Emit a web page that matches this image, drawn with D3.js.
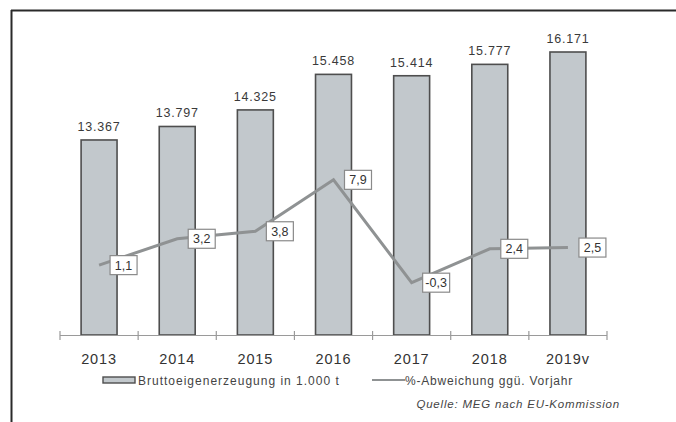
<!DOCTYPE html>
<html>
<head>
<meta charset="utf-8">
<script src="https://cdn.jsdelivr.net/npm/d3@7"></script>
<style>
  html, body { margin: 0; padding: 0; background: #fff; }
  svg { display: block; font-family: "Liberation Sans", Arial, sans-serif; }
</style>
</head>
<body>
<svg id="chart" width="676" height="422"></svg>
<script>
// Bruttoeigenerzeugung (1.000 t) and percentage change versus previous year
const years = ["2013", "2014", "2015", "2016", "2017", "2018", "2019v"];
const production = [13367, 13797, 14325, 15458, 15414, 15777, 16171];
const changePct = [1.1, 3.2, 3.8, 7.9, -0.3, 2.4, 2.5];
const legendLabels = ["Bruttoeigenerzeugung in 1.000 t", "%-Abweichung ggü. Vorjahr"];
const sourceNote = "Quelle: MEG nach EU-Kommission";

const de = d3.formatLocale({ decimal: ",", thousands: ".", grouping: [3], currency: ["", " €"], minus: "-" });
const fmtThousands = de.format(",d");
const fmtPct = de.format(".1f");

const svg = d3.select("#chart");

// frame: top and left rule
svg.append("line").attr("x1", 11).attr("x2", 676).attr("y1", 10.5).attr("y2", 10.5)
  .attr("stroke", "#2a2a2a").attr("stroke-width", 2);
svg.append("line").attr("x1", 11.5).attr("x2", 11.5).attr("y1", 10).attr("y2", 422)
  .attr("stroke", "#2a2a2a").attr("stroke-width", 2);

const x = d3.scaleBand().domain(years).range([60, 607]).paddingInner(0.54).paddingOuter(0.27);
const y = d3.scaleLinear().domain([7150, 17000]).range([335, 26]);
const yPct = d3.scaleLinear().domain([-2, 10]).range([304, 153.5]);

const baseY = y(7150);

// bars
svg.append("g").selectAll("rect").data(years).join("rect")
  .attr("x", d => x(d))
  .attr("y", (d, i) => y(production[i]))
  .attr("width", x.bandwidth())
  .attr("height", (d, i) => baseY - y(production[i]))
  .attr("fill", "#c2c8cc")
  .attr("stroke", "#4e4e4e")
  .attr("stroke-width", 1.6);

// bar value labels
svg.append("g").selectAll("text").data(years).join("text")
  .attr("x", d => x(d) + x.bandwidth() / 2)
  .attr("y", (d, i) => y(production[i]) - 9)
  .attr("text-anchor", "middle")
  .attr("font-size", 12.5)
  .attr("letter-spacing", 0.8)
  .attr("fill", "#3a3a3a")
  .text((d, i) => fmtThousands(production[i]));

// category axis
const tickEdges = years.map(d => x(d) - x.step() * x.paddingInner() / 2).slice(1);
const axisG = svg.append("g");
axisG.append("line").attr("x1", 60).attr("x2", 607).attr("y1", baseY + 0.5).attr("y2", baseY + 0.5)
  .attr("stroke", "#9a9a9a").attr("stroke-width", 1.2);
axisG.selectAll("line.tick").data([60].concat(tickEdges, [607])).join("line")
  .attr("class", "tick")
  .attr("x1", d => d).attr("x2", d => d)
  .attr("y1", baseY - 4).attr("y2", baseY + 5)
  .attr("stroke", "#9a9a9a").attr("stroke-width", 1.2);
axisG.selectAll("text").data(years).join("text")
  .attr("x", d => x(d) + x.bandwidth() / 2)
  .attr("y", baseY + 29)
  .attr("text-anchor", "middle")
  .attr("font-size", 14.5)
  .attr("letter-spacing", 0.9)
  .attr("fill", "#333")
  .text(d => d);

// percentage line
const cx = d => x(d) + x.bandwidth() / 2;
const pctLine = d3.line().x(d => cx(d)).y((d, i) => yPct(changePct[i]));
svg.append("path").datum(years)
  .attr("d", pctLine)
  .attr("fill", "none")
  .attr("stroke", "#8f9293")
  .attr("stroke-width", 3)
  .attr("stroke-linejoin", "miter");

// percentage labels in boxes
const pctG = svg.append("g").selectAll("g").data(years).join("g")
  .attr("transform", (d, i) => `translate(${cx(d) + 11},${yPct(changePct[i])})`);
pctG.append("rect")
  .attr("x", 0).attr("y", -9.5)
  .attr("width", (d, i) => changePct[i] < 0 ? 27 : 27)
  .attr("height", 19)
  .attr("fill", "#fff")
  .attr("stroke", "#8a8a8a")
  .attr("stroke-width", 1.2);
pctG.append("text")
  .attr("x", 13.5)
  .attr("y", 4.5)
  .attr("text-anchor", "middle")
  .attr("font-size", 12.5)
  .attr("fill", "#333")
  .text((d, i) => fmtPct(changePct[i]));

// legend
const lg = svg.append("g");
lg.append("rect").attr("x", 103).attr("y", 377).attr("width", 32).attr("height", 6)
  .attr("fill", "#c2c8cc").attr("stroke", "#4e4e4e").attr("stroke-width", 1.4);
lg.append("text").attr("x", 138).attr("y", 385).attr("font-size", 12).attr("letter-spacing", 1)
  .attr("fill", "#444").text(legendLabels[0]);
lg.append("line").attr("x1", 372).attr("x2", 405).attr("y1", 380).attr("y2", 380)
  .attr("stroke", "#8f9293").attr("stroke-width", 2);
lg.append("text").attr("x", 405).attr("y", 385).attr("font-size", 12).attr("letter-spacing", 0.8)
  .attr("fill", "#444").text(legendLabels[1]);

// source note
svg.append("text").attr("x", 620).attr("y", 408).attr("text-anchor", "end")
  .attr("font-size", 11.5).attr("letter-spacing", 0.8).attr("font-style", "italic").attr("fill", "#444")
  .text(sourceNote);
</script>
</body>
</html>
